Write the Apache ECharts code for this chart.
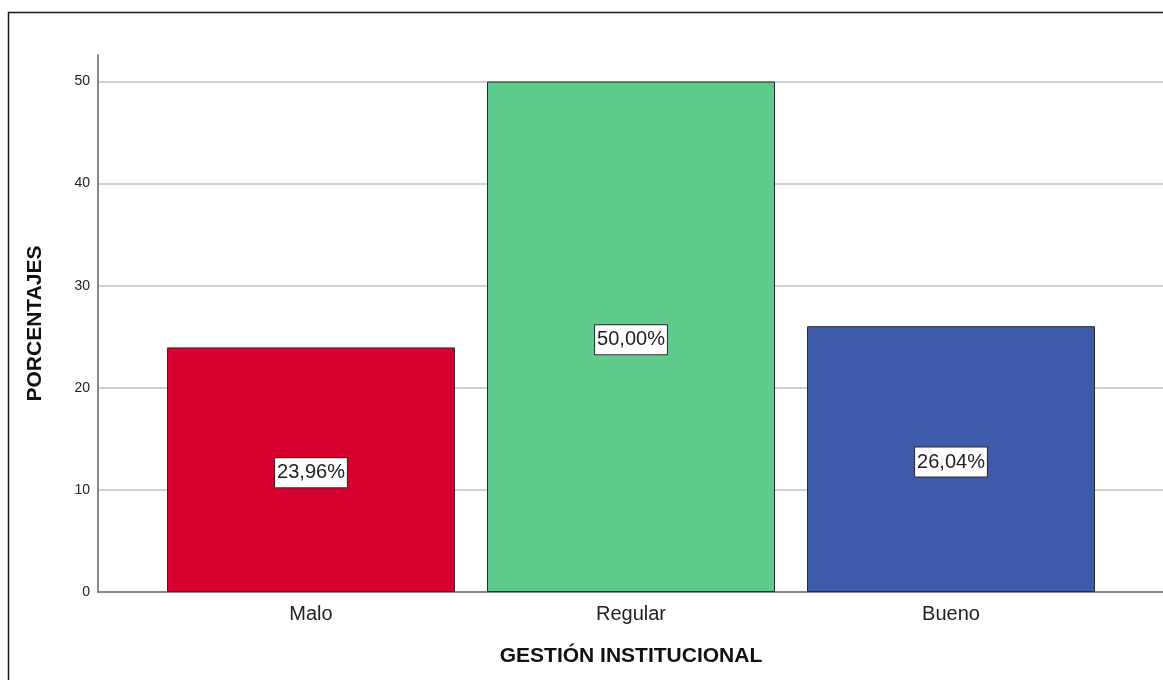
<!DOCTYPE html>
<html>
<head>
<meta charset="utf-8">
<script src="https://cdn.jsdelivr.net/npm/echarts@6/dist/echarts.min.js"></script>
<style>
  html, body { margin: 0; padding: 0; background: #fff; }
  #chart { width: 1163px; height: 680px; }
</style>
</head>
<body>
<div id="chart"></div>
<script>
// Distribución porcentual de la gestión institucional
const categories = ['Malo', 'Regular', 'Bueno'];
const percentages = [23.96, 50.00, 26.04];
const barColors = ['#D6002F', '#5ECB8C', '#3E5BA9'];
const yTicks = [0, 10, 20, 30, 40, 50];

const yMin = yTicks[0];
const yMax = 52.6;
const yStep = yTicks[1] - yTicks[0];

const FONT = '"Liberation Sans", Arial, sans-serif';

const chart = echarts.init(document.getElementById('chart'), null, { renderer: 'canvas' });

const fmt = v => v.toFixed(2).replace('.', ',') + '%';

chart.setOption({
  animation: false,
  backgroundColor: '#fff',
  textStyle: { fontFamily: FONT },
  graphic: [{
    type: 'rect',
    silent: true,
    shape: { x: 8.5, y: 12.5, width: 1200, height: 720 },
    style: { fill: 'none', stroke: '#1a1a1a', lineWidth: 1.5 },
    z: 100
  }],
  grid: [
    // frame: axis lines and grid lines across the whole plot area
    { left: 98, right: 0, top: 55, bottom: 88 },
    // category bands for the bars
    { left: 151, right: 52, top: 55, bottom: 88 }
  ],
  xAxis: [
    {
      gridIndex: 0, type: 'value', min: 0, max: 1,
      axisLine: { show: true, lineStyle: { color: '#878787', width: 2 } },
      axisTick: { show: false }, axisLabel: { show: false }, splitLine: { show: false }
    },
    {
      gridIndex: 1, type: 'category', data: categories,
      axisLine: { show: false }, axisTick: { show: false },
      axisLabel: { margin: 12, fontSize: 20, color: '#222', fontFamily: FONT },
      name: 'GESTIÓN INSTITUCIONAL', nameLocation: 'middle', nameGap: 54,
      nameTextStyle: { fontSize: 21, fontWeight: 'bold', color: '#111', fontFamily: FONT }
    }
  ],
  yAxis: [
    {
      gridIndex: 0, type: 'value', min: yMin, max: yMax, interval: yStep,
      axisLine: { show: true, lineStyle: { color: '#878787', width: 2 } },
      axisTick: { show: false },
      axisLabel: {
        margin: 8, fontSize: 14, color: '#222', fontFamily: FONT, showMaxLabel: false,
        formatter: v => (yTicks.indexOf(v) >= 0 ? String(v) : '')
      },
      splitLine: { show: true, showMinLine: false, showMaxLine: false, lineStyle: { color: '#cfcfcf', width: 2 } },
      name: 'PORCENTAJES', nameLocation: 'middle', nameGap: 52, nameRotate: 90,
      nameTextStyle: { fontSize: 21, fontWeight: 'bold', color: '#111', fontFamily: FONT }
    },
    {
      gridIndex: 1, type: 'value', min: yMin, max: yMax, interval: yStep, show: false,
      splitLine: { show: false }
    }
  ],
  series: [{
    type: 'bar',
    xAxisIndex: 1, yAxisIndex: 1,
    barWidth: '90%',
    data: percentages.map((v, i) => ({ value: v, itemStyle: { color: barColors[i] } })),
    itemStyle: { borderColor: '#2b2b2b', borderWidth: 1 },
    label: {
      show: true, position: 'inside', offset: [0, 3],
      formatter: p => fmt(p.value),
      fontSize: 20, color: '#222', fontFamily: FONT,
      backgroundColor: '#fff', borderColor: '#2b2b2b', borderWidth: 1,
      padding: [5, 2, 4, 2]
    },
    z: 3
  }]
});
</script>
</body>
</html>
